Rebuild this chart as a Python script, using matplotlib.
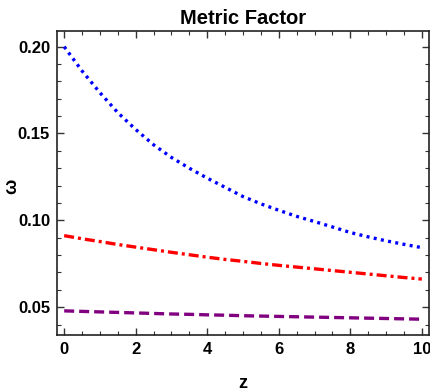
import matplotlib
matplotlib.use("Agg")
import matplotlib.pyplot as plt
from matplotlib.ticker import MultipleLocator
from matplotlib import font_manager

fams = [f.name for f in font_manager.fontManager.ttflist]
main_font = "Liberation Sans Narrow" if "Liberation Sans Narrow" in fams else "Liberation Sans"
plt.rcParams['font.family'] = [main_font, 'DejaVu Sans']

z = [0, 0.5, 1, 1.5, 2, 2.5, 3, 3.5, 4, 4.5, 5, 5.5, 6, 6.5, 7, 7.5, 8, 8.5, 9, 9.5, 10]
omega_blue = [0.200, 0.186, 0.1735, 0.162, 0.1523, 0.1435, 0.1362, 0.130, 0.1243, 0.119,
              0.1137, 0.1095, 0.1058, 0.1023, 0.0993, 0.0962, 0.0930, 0.0905, 0.0882, 0.0862, 0.0843]
omega_red = [0.0912, 0.0894, 0.0878, 0.0861, 0.0846, 0.0831, 0.0816, 0.0802, 0.0788, 0.0775,
             0.0764, 0.0752, 0.0741, 0.0731, 0.0721, 0.0711, 0.0701, 0.0691, 0.0681, 0.0671, 0.0662]
omega_purple = [0.0479, 0.0476, 0.0473, 0.0470, 0.0467, 0.0464, 0.0461, 0.0459, 0.0456, 0.0454,
                0.0451, 0.0449, 0.0447, 0.0445, 0.0443, 0.0441, 0.0439, 0.0437, 0.0435, 0.0433, 0.0431]

fig = plt.figure(figsize=(4.30, 3.91), dpi=100)
ax = fig.add_axes([0.1326, 0.1432, 0.8651, 0.7775])

ax.plot(z, omega_blue, color='#0000ff', lw=2.4, linestyle=(0, (0.9, 1.3)))
ax.plot(z, omega_red, color='#ff0000', lw=2.4, linestyle=(0, (3.0, 1.2, 0.9, 1.2)))
ax.plot(z, omega_purple, color='#800080', lw=2.4, linestyle=(0, (3.0, 1.5)))

ax.set_xlim(-0.2, 10.2)
ax.set_ylim(0.034, 0.209)
ax.xaxis.set_major_locator(MultipleLocator(2))
ax.xaxis.set_minor_locator(MultipleLocator(0.5))
ax.yaxis.set_major_locator(MultipleLocator(0.05))
ax.yaxis.set_minor_locator(MultipleLocator(0.01))
ax.yaxis.set_major_formatter(plt.FormatStrFormatter('%.2f'))

ax.tick_params(which='both', direction='in', top=True, right=True, color='#333333')
ax.tick_params(which='major', length=5, width=1, labelsize=12, pad=5)
ax.tick_params(which='minor', length=3, width=0.8)
for lab in ax.get_xticklabels() + ax.get_yticklabels():
    lab.set_fontweight('bold')
for s in ax.spines.values():
    s.set_linewidth(1.2)
    s.set_color('#222222')

ax.set_title('Metric Factor', fontsize=14.5, fontweight='bold', pad=5)
ax.set_xlabel('z', fontsize=13, fontweight='bold')
ax.set_ylabel('ω', fontsize=13, fontweight='bold')
ax.xaxis.set_label_coords(0.5, -0.13)
ax.yaxis.set_label_coords(-0.098, 0.49)

fig.savefig('out.png', dpi=100)
